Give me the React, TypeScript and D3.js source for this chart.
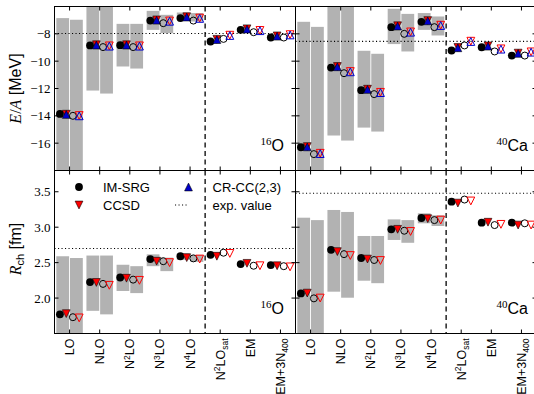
import React from "react";
import * as d3 from "d3";

const categories = ["LO", "NLO", "N2LO", "N3LO", "N4LO", "N2LOsat", "EM", "EM+3N400"];

// 16O binding energy per nucleon [MeV]
const o16EImsrg = [-13.86, -8.85, -8.83, -7.03, -6.85, -8.56, -7.71, -8.27];
const o16ECcsd = [-13.88, -8.8, -8.8, -6.98, -6.75, -8.4, -7.63, -8.15];
const o16ECrcc = [-13.9, -8.82, -8.82, -7.0, -6.77, -8.42, -7.65, -8.17];
const o16EImsrgOpen = [-14.0, -8.97, -8.97, -7.22, -7.03, -8.37, -7.88, -8.27];
const o16ECcsdOpen = [-13.98, -8.88, -8.88, -7.06, -6.85, -8.1, -7.75, -8.06];
const o16ECrccOpen = [-14.0, -8.9, -8.9, -7.08, -6.87, -8.12, -7.77, -8.08];
const o16EBandLo = [-19, -12.15, -10.39, -7.71, -6.92, null, null, null];
const o16EBandHi = [-6.85, -5, -7.27, -6.32, -6.44, null, null, null];
const o16EBandOpenLo = [-19, -12.37, -10.54, -7.95, -7.1, null, null, null];
const o16EBandOpenHi = [-6.97, -5, -7.27, -6.61, -6.48, null, null, null];

// 40Ca binding energy per nucleon [MeV]
const ca40EImsrg = [-16.3, -10.47, -12.12, -7.51, -7.12, -9.22, -8.98, -9.59];
const ca40ECcsd = [-16.25, -10.39, -12.05, -7.41, -7.03, -9.0, -8.88, -9.41];
const ca40ECrcc = [-16.27, -10.41, -12.07, -7.43, -7.05, -9.02, -8.9, -9.43];
const ca40EImsrgOpen = [-16.8, -10.88, -12.41, -8.0, -7.51, -8.85, -9.29, -9.59];
const ca40ECcsdOpen = [-16.74, -10.76, -12.28, -7.86, -7.37, -8.54, -9.1, -9.32];
const ca40ECrccOpen = [-16.76, -10.78, -12.3, -7.88, -7.39, -8.56, -9.12, -9.34];
const ca40EBandLo = [-19, -15.44, -14.86, -8.75, -7.71, null, null, null];
const ca40EBandHi = [-7.12, -5, -9.24, -6.17, -6.48, null, null, null];
const ca40EBandOpenLo = [-19, -15.81, -15.15, -9.29, -8.12, null, null, null];
const ca40EBandOpenHi = [-7.49, -5, -9.46, -6.54, -6.73, null, null, null];

// 16O charge radius [fm]
const o16RImsrg = [1.77, 2.226, 2.29, 2.55, 2.59, 2.61, 2.48, 2.466];
const o16RCcsd = [1.78, 2.22, 2.28, 2.52, 2.57, 2.59, 2.49, 2.456];
const o16RImsrgOpen = [1.73, 2.2, 2.26, 2.52, 2.56, 2.64, 2.456, 2.45];
const o16RCcsdOpen = [1.72, 2.18, 2.25, 2.5, 2.55, 2.63, 2.456, 2.44];
const o16RBandLo = [1.2, 1.82, 2.1, 2.45, 2.54, null, null, null];
const o16RBandHi = [2.59, 2.6, 2.47, 2.617, 2.63, null, null, null];
const o16RBandOpenLo = [1.2, 1.77, 2.07, 2.38, 2.51, null, null, null];
const o16RBandOpenHi = [2.565, 2.6, 2.45, 2.57, 2.61, null, null, null];

// 40Ca charge radius [fm]
const ca40RImsrg = [2.066, 2.68, 2.565, 2.97, 3.13, 3.36, 3.064, 3.064];
const ca40RCcsd = [2.07, 2.655, 2.55, 2.97, 3.12, 3.34, 3.07, 3.03];
const ca40RImsrgOpen = [1.996, 2.62, 2.537, 2.95, 3.1, 3.39, 3.03, 3.055];
const ca40RCcsdOpen = [2.0, 2.6, 2.53, 2.94, 3.1, 3.37, 3.04, 3.03];
const ca40RBandLo = [1.2, 2.09, 2.245, 2.82, 3.055, null, null, null];
const ca40RBandHi = [3.134, 3.243, 2.876, 3.11, 3.196, null, null, null];
const ca40RBandOpenLo = [1.2, 2.005, 2.21, 2.78, 3.017, null, null, null];
const ca40RBandOpenHi = [3.1, 3.215, 2.876, 3.1, 3.168, null, null, null];

const expValues = { o16E: -7.976, ca40E: -8.551, o16R: 2.699, ca40R: 3.478 };

const energyTicks = [-16, -14, -12, -10, -8];
const radiusTicks = [2.0, 2.5, 3.0, 3.5];

const W = 534;
const H = 394;
const left = 54.5;
const panelW = 241;
const top = 6.5;
const topH = 164;
const botH = 163;

const gray = "#b2b2b2";
const red = "#ff0000";
const blue = "#0000cc";
const sans = "'Liberation Sans', Arial, sans-serif";
const serif = "'Liberation Serif', 'Times New Roman', serif";

type Vals = (number | null)[];
type Panel = {
  id: string;
  x0: number;
  y0: number;
  h: number;
  domain: [number, number];
  ticks: number[];
  showTickLabels: boolean;
  showXLabels: boolean;
  imsrg: number[];
  ccsd: number[];
  crcc: number[] | null;
  imsrgOpen: number[];
  ccsdOpen: number[];
  crccOpen: number[] | null;
  bandLo: Vals;
  bandHi: Vals;
  bandOpenLo: Vals;
  bandOpenHi: Vals;
  exp: number;
  mass: string;
  element: string;
};

const panels: Panel[] = [
  {
    id: "o16E", x0: left, y0: top, h: topH, domain: [-18, -6], ticks: energyTicks,
    showTickLabels: true, showXLabels: false,
    imsrg: o16EImsrg, ccsd: o16ECcsd, crcc: o16ECrcc,
    imsrgOpen: o16EImsrgOpen, ccsdOpen: o16ECcsdOpen, crccOpen: o16ECrccOpen,
    bandLo: o16EBandLo, bandHi: o16EBandHi, bandOpenLo: o16EBandOpenLo, bandOpenHi: o16EBandOpenHi,
    exp: expValues.o16E, mass: "16", element: "O",
  },
  {
    id: "ca40E", x0: left + panelW, y0: top, h: topH, domain: [-18, -6], ticks: energyTicks,
    showTickLabels: false, showXLabels: false,
    imsrg: ca40EImsrg, ccsd: ca40ECcsd, crcc: ca40ECrcc,
    imsrgOpen: ca40EImsrgOpen, ccsdOpen: ca40ECcsdOpen, crccOpen: ca40ECrccOpen,
    bandLo: ca40EBandLo, bandHi: ca40EBandHi, bandOpenLo: ca40EBandOpenLo, bandOpenHi: ca40EBandOpenHi,
    exp: expValues.ca40E, mass: "40", element: "Ca",
  },
  {
    id: "o16R", x0: left, y0: top + topH, h: botH, domain: [1.5, 3.8], ticks: radiusTicks,
    showTickLabels: true, showXLabels: true,
    imsrg: o16RImsrg, ccsd: o16RCcsd, crcc: null,
    imsrgOpen: o16RImsrgOpen, ccsdOpen: o16RCcsdOpen, crccOpen: null,
    bandLo: o16RBandLo, bandHi: o16RBandHi, bandOpenLo: o16RBandOpenLo, bandOpenHi: o16RBandOpenHi,
    exp: expValues.o16R, mass: "16", element: "O",
  },
  {
    id: "ca40R", x0: left + panelW, y0: top + topH, h: botH, domain: [1.5, 3.8], ticks: radiusTicks,
    showTickLabels: false, showXLabels: true,
    imsrg: ca40RImsrg, ccsd: ca40RCcsd, crcc: null,
    imsrgOpen: ca40RImsrgOpen, ccsdOpen: ca40RCcsdOpen, crccOpen: null,
    bandLo: ca40RBandLo, bandHi: ca40RBandHi, bandOpenLo: ca40RBandOpenLo, bandOpenHi: ca40RBandOpenHi,
    exp: expValues.ca40R, mass: "40", element: "Ca",
  },
];

const s = 3.9;
const upTri = `M0,${-s}L${s},${s}L${-s},${s}Z`;
const downTri = `M0,${s}L${s},${-s}L${-s},${-s}Z`;

// offsets (in category units) for the four marker columns
const offFilledCircle = -0.32;
const offFilledTri = -0.11;
const offOpenCircle = 0.11;
const offOpenTri = 0.32;

function CatLabel({ name }: { name: string }) {
  const m = name.match(/^N(\d)LO(sat)?$/);
  if (m) {
    return (
      <>
        N<tspan dy={-4.5} fontSize={8.5}>{m[1]}</tspan>
        <tspan dy={4.5}>LO</tspan>
        {m[2] && <tspan dy={3} fontSize={8.5}>{m[2]}</tspan>}
      </>
    );
  }
  const e = name.match(/^(EM\+3N)(\d+)$/);
  if (e) {
    return (
      <>
        {e[1]}
        <tspan dy={3} fontSize={8.5}>{e[2]}</tspan>
      </>
    );
  }
  return <>{name}</>;
}

function PanelView({ p }: { p: Panel }) {
  const x = d3.scaleLinear().domain([-0.5, categories.length - 0.5]).range([p.x0, p.x0 + panelW]);
  const y = d3.scaleLinear().domain(p.domain).range([p.y0 + p.h, p.y0]);
  const x1 = p.x0 + panelW;
  const y1 = p.y0 + p.h;
  const tick = 4;
  const idx = d3.range(categories.length);

  const bands = (lo: Vals, hi: Vals, a: number, b: number, key: string) =>
    idx.map((i) =>
      lo[i] == null || hi[i] == null ? null : (
        <rect
          key={key + i}
          x={x(i + a)}
          width={x(i + b) - x(i + a)}
          y={y(hi[i] as number)}
          height={y(lo[i] as number) - y(hi[i] as number)}
          fill={gray}
        />
      )
    );

  return (
    <g>
      <defs>
        <clipPath id={"clip-" + p.id}>
          <rect x={p.x0} y={p.y0} width={panelW} height={p.h} />
        </clipPath>
      </defs>
      <g clipPath={`url(#clip-${p.id})`}>
        {bands(p.bandLo, p.bandHi, -0.44, -0.015, "b")}
        {bands(p.bandOpenLo, p.bandOpenHi, 0.015, 0.44, "bo")}
        <line x1={p.x0} x2={x1} y1={y(p.exp)} y2={y(p.exp)} stroke="#000" strokeWidth={1.1} strokeDasharray="1.1,2.4" />
        <line x1={x(4.5)} x2={x(4.5)} y1={p.y0} y2={y1} stroke="#000" strokeWidth={1.3} strokeDasharray="5,3.5" />
        {idx.map((i) => (
          <g key={"m" + i}>
            <circle cx={x(i + offFilledCircle)} cy={y(p.imsrg[i])} r={3.9} fill="#000" />
            <path d={downTri} transform={`translate(${x(i + offFilledTri)},${y(p.ccsd[i])})`} fill={red} stroke="#000" strokeWidth={0.6} />
            {p.crcc && (
              <path d={upTri} transform={`translate(${x(i + offFilledTri)},${y(p.crcc[i])})`} fill={blue} stroke="#000" strokeWidth={0.6} />
            )}
            <circle cx={x(i + offOpenCircle)} cy={y(p.imsrgOpen[i])} r={3.5} fill="none" stroke="#000" strokeWidth={1} />
            <path d={downTri} transform={`translate(${x(i + offOpenTri)},${y(p.ccsdOpen[i])})`} fill="none" stroke={red} strokeWidth={1} />
            {p.crccOpen && (
              <path d={upTri} transform={`translate(${x(i + offOpenTri)},${y(p.crccOpen[i])})`} fill="none" stroke={blue} strokeWidth={1} />
            )}
          </g>
        ))}
      </g>
      <rect x={p.x0} y={p.y0} width={panelW} height={p.h} fill="none" stroke="#000" strokeWidth={1} />
      {p.ticks.map((t) => (
        <g key={"yt" + t}>
          <line x1={p.x0} x2={p.x0 + tick} y1={y(t)} y2={y(t)} stroke="#000" />
          <line x1={x1 - tick} x2={x1} y1={y(t)} y2={y(t)} stroke="#000" />
          {p.showTickLabels && (
            <text x={p.x0 - 4} y={y(t)} dy="0.35em" textAnchor="end" fontFamily={serif} fontSize={13}>
              {d3.format(p.domain[0] < 0 ? "d" : ".1f")(t).replace("-", "\u2212")}
            </text>
          )}
        </g>
      ))}
      {idx.map((i) => (
        <g key={"xt" + i}>
          <line x1={x(i)} x2={x(i)} y1={p.y0} y2={p.y0 + tick} stroke="#000" />
          <line x1={x(i)} x2={x(i)} y1={y1 - tick} y2={y1} stroke="#000" />
          {p.showXLabels && (
            <text
              transform={`translate(${x(i)},${y1 + 5}) rotate(-90)`}
              dy="0.36em"
              textAnchor="end"
              fontFamily={sans}
              fontSize={12.5}
            >
              <CatLabel name={categories[i]} />
            </text>
          )}
        </g>
      ))}
      <text x={x1 - (p.element === "O" ? 35 : 40)} y={y1 - 20} fontFamily={sans} fontSize={16}>
        <tspan fontFamily={serif} fontSize={11} dy={-5.5}>{p.mass}</tspan>
        <tspan dy={5.5}>{p.element}</tspan>
      </text>
    </g>
  );
}

const legendItems = ["IM-SRG", "CCSD", "CR-CC(2,3)", "exp. value"];

function Legend() {
  const rows = [
    { kind: "circle", cx: 79, tx: 103, cy: 187 },
    { kind: "down", cx: 79, tx: 103, cy: 205 },
    { kind: "up", cx: 188.5, tx: 212.5, cy: 187 },
    { kind: "line", cx: 181, tx: 212.5, cy: 205 },
  ];
  return (
    <g>
      {rows.map((r, i) => (
        <g key={legendItems[i]}>
          {r.kind === "circle" && <circle cx={r.cx} cy={r.cy} r={3.9} fill="#000" />}
          {r.kind === "down" && (
            <path d={downTri} transform={`translate(${r.cx},${r.cy})`} fill={red} stroke="#000" strokeWidth={0.6} />
          )}
          {r.kind === "up" && (
            <path d={upTri} transform={`translate(${r.cx},${r.cy})`} fill={blue} stroke="#000" strokeWidth={0.6} />
          )}
          {r.kind === "line" && (
            <line x1={r.cx - 6} x2={r.cx + 6} y1={r.cy} y2={r.cy} stroke="#000" strokeWidth={1.1} strokeDasharray="1.1,2.4" />
          )}
          <text x={r.tx} y={r.cy} dy="0.35em" fontFamily={sans} fontSize={13}>
            {legendItems[i]}
          </text>
        </g>
      ))}
    </g>
  );
}

export default function App() {
  const eMid = top + topH / 2;
  const rMid = top + topH + botH / 2;
  return (
    <svg
      width={W}
      height={H}
      viewBox={`0 0 ${W} ${H}`}
      style={{ position: "absolute", left: 0, top: 0, background: "#fff" }}
    >
      {panels.map((p) => (
        <PanelView key={p.id} p={p} />
      ))}
      <Legend />
      <text transform={`translate(21,${eMid}) rotate(-90)`} textAnchor="middle" fontFamily={sans} fontSize={16}>
        <tspan fontFamily={serif} fontStyle="italic">E</tspan>
        <tspan fontFamily={serif}>/</tspan>
        <tspan fontFamily={serif} fontStyle="italic">A</tspan> [MeV]
      </text>
      <text transform={`translate(21,${rMid - 3}) rotate(-90)`} textAnchor="middle" fontFamily={sans} fontSize={16}>
        <tspan fontFamily={serif} fontStyle="italic">R</tspan>
        <tspan fontSize={11} dy={3}>ch</tspan>
        <tspan dy={-3}> [fm]</tspan>
      </text>
    </svg>
  );
}
